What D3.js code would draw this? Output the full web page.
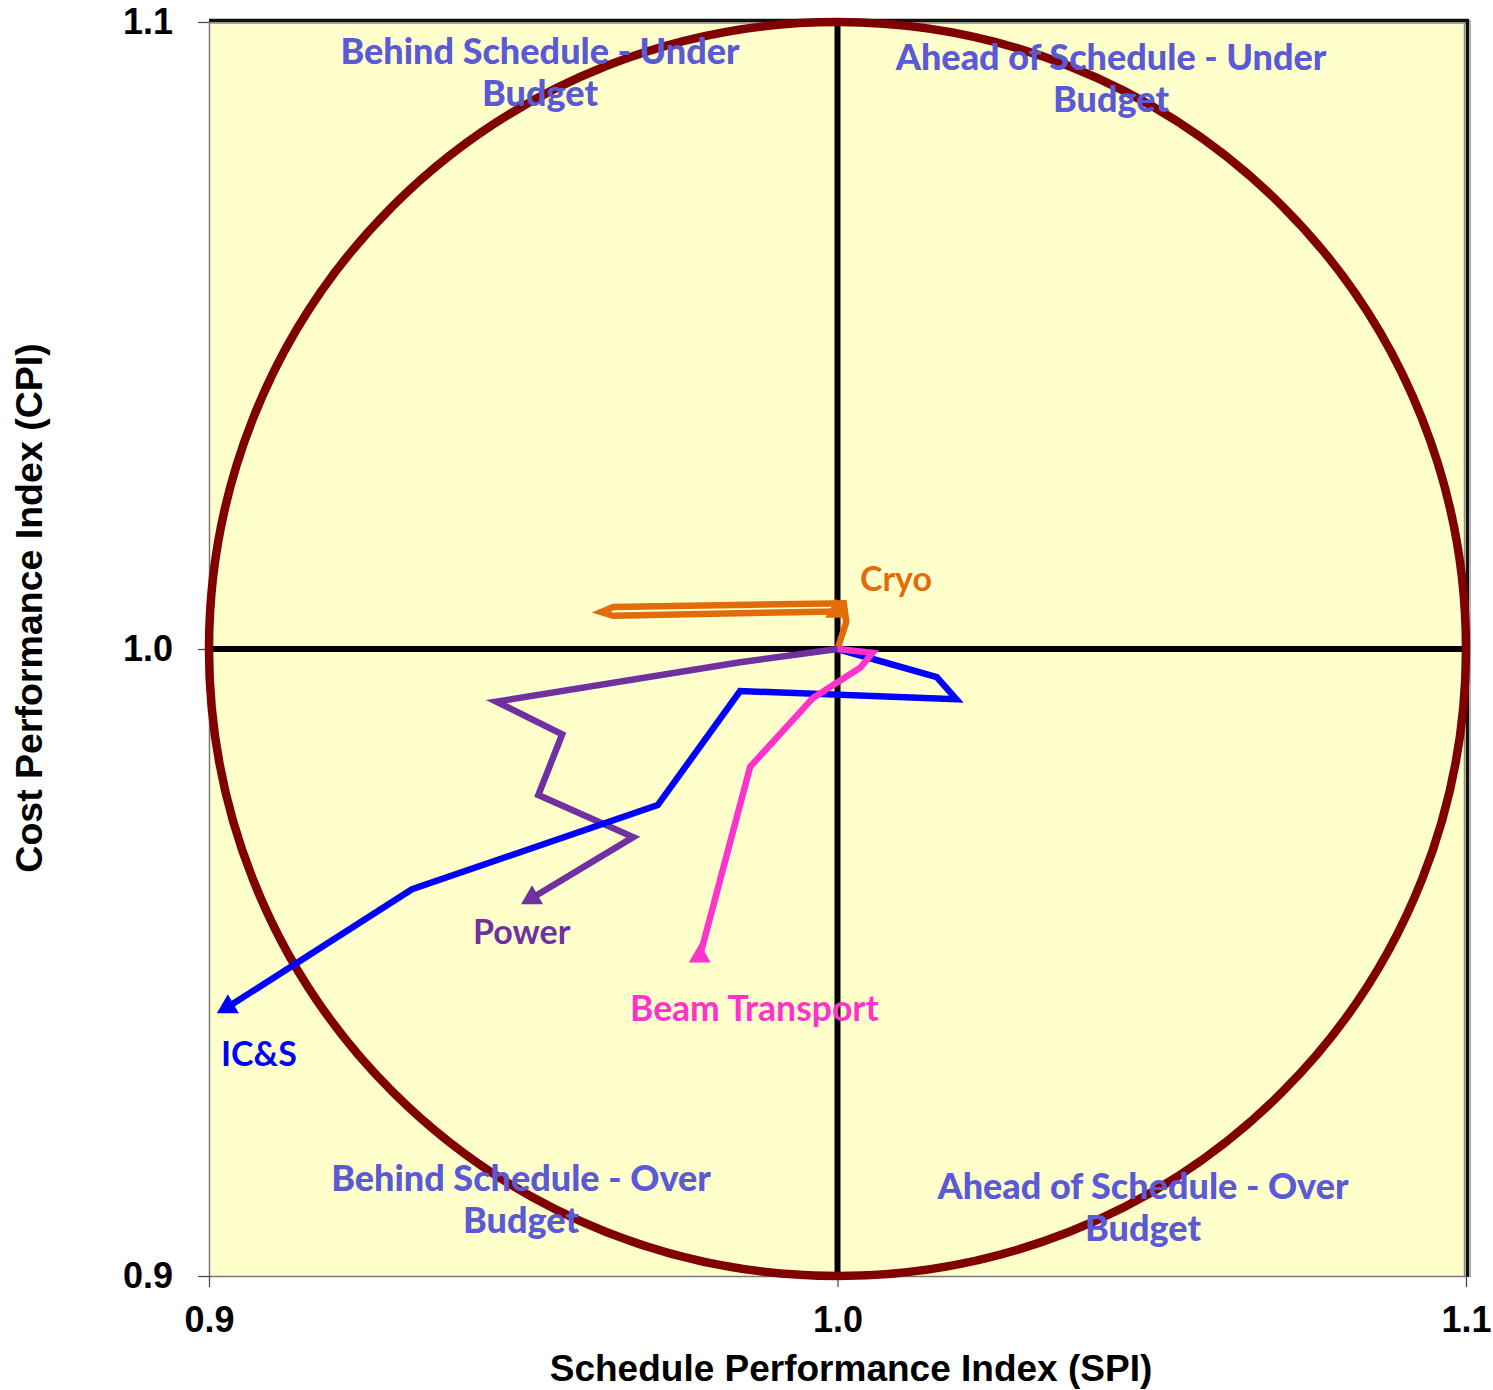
<!DOCTYPE html>
<html>
<head>
<meta charset="utf-8">
<script src="https://cdn.jsdelivr.net/npm/d3@7"></script>
<style>
  html, body { margin: 0; padding: 0; background: #ffffff; }
  svg { display: block; }
</style>
</head>
<body>
<svg id="chart" width="1493" height="1390"></svg>
<script>
// ---------- DATA ----------
const xTicks = [0.9, 1.0, 1.1];
const yTicks = [0.9, 1.0, 1.1];
const xTitle = "Schedule Performance Index (SPI)";
const yTitle = "Cost Performance Index (CPI)";

const seriesNames = ["Cryo", "Power", "IC&S", "Beam Transport"];

const cryoSPI  = [1.0000, 1.0014, 1.0010, 0.9643, 0.9624, 0.9643, 0.9998];
const cryoCPI  = [1.0000, 1.0043, 1.0073, 1.0067, 1.0059, 1.0053, 1.0060];

const powerSPI = [1.0000, 0.9845, 0.9457, 0.9562, 0.9524, 0.9675, 0.9514];
const powerCPI = [1.0000, 0.9979, 0.9916, 0.9864, 0.9767, 0.9700, 0.9603];

const icsSPI   = [1.0000, 1.0158, 1.0189, 0.9845, 0.9714, 0.9323, 0.9030];
const icsCPI   = [1.0000, 0.9955, 0.9920, 0.9933, 0.9751, 0.9617, 0.9429];

const beamSPI  = [1.0000, 1.0056, 1.0036, 0.9961, 0.9861, 0.9781];
const beamCPI  = [1.0000, 0.9994, 0.9970, 0.9922, 0.9812, 0.9510];

const circleCenter = [1.0, 1.0];
const circleRadius = 0.1;

const quadrantLabels = [
  ["Behind Schedule - Under", "Budget"],
  ["Ahead of Schedule - Under", "Budget"],
  ["Behind Schedule - Over", "Budget"],
  ["Ahead of Schedule - Over", "Budget"]
];

// ---------- LAYOUT ----------
const svg = d3.select("#chart");
const L = 209, R = 1466, T = 22, B = 1276;
const x = d3.scaleLinear().domain([0.9, 1.1]).range([L, R]);
const y = d3.scaleLinear().domain([0.9, 1.1]).range([B, T]);

const colors = {
  "Cryo": "#E36C0A",
  "Power": "#7030A0",
  "IC&S": "#0000FF",
  "Beam Transport": "#FF33CC"
};

// plot background
svg.append("rect")
  .attr("x", L).attr("y", T)
  .attr("width", R - L).attr("height", B - T)
  .attr("fill", "#FFFFCC");

// borders (top / right dark, left / bottom thin gray)
svg.append("line").attr("x1", L).attr("x2", R + 3).attr("y1", T - 1.5).attr("y2", T - 1.5)
  .attr("stroke", "#111").attr("stroke-width", 3.5);
svg.append("line").attr("x1", L).attr("x2", R).attr("y1", T + 1).attr("y2", T + 1)
  .attr("stroke", "#888").attr("stroke-width", 1.5);
svg.append("line").attr("x1", R + 1.5).attr("x2", R + 1.5).attr("y1", T - 3).attr("y2", B + 1)
  .attr("stroke", "#111").attr("stroke-width", 3.5);
svg.append("line").attr("x1", R - 1.5).attr("x2", R - 1.5).attr("y1", T).attr("y2", B)
  .attr("stroke", "#888").attr("stroke-width", 1.5);
svg.append("line").attr("x1", R + 4.2).attr("x2", R + 4.2).attr("y1", T - 2).attr("y2", B + 1)
  .attr("stroke", "#aaa").attr("stroke-width", 1.5);

// axes
const tickFmt = d3.format(".1f");
const yAxis = svg.append("g")
  .attr("transform", `translate(${L},0)`)
  .call(d3.axisLeft(y).tickValues(yTicks).tickFormat(tickFmt).tickSize(11).tickSizeOuter(0).tickPadding(25));
const xAxis = svg.append("g")
  .attr("transform", `translate(0,${B})`)
  .call(d3.axisBottom(x).tickValues(xTicks).tickFormat(tickFmt).tickSize(11).tickSizeOuter(0).tickPadding(19));
[yAxis, xAxis].forEach(g => {
  g.select(".domain").attr("stroke", "#777").attr("stroke-width", 1.5);
  g.selectAll(".tick line").attr("stroke", "#444").attr("stroke-width", 1.2);
  g.selectAll(".tick text")
    .attr("fill", "#000")
    .style("font-family", "'Liberation Sans', Arial, sans-serif")
    .style("font-weight", "bold")
    .style("font-size", "36px");
});

// quadrant cross lines
svg.append("line")
  .attr("x1", x(0.9)).attr("x2", x(1.1)).attr("y1", y(1.0)).attr("y2", y(1.0))
  .attr("stroke", "#000").attr("stroke-width", 6);
svg.append("line")
  .attr("x1", x(1.0)).attr("x2", x(1.0)).attr("y1", y(0.9)).attr("y2", y(1.1))
  .attr("stroke", "#000").attr("stroke-width", 6);

// circle (ellipse in screen coordinates)
svg.append("ellipse")
  .attr("cx", x(circleCenter[0])).attr("cy", y(circleCenter[1]))
  .attr("rx", x(circleCenter[0] + circleRadius) - x(circleCenter[0]))
  .attr("ry", y(circleCenter[1]) - y(circleCenter[1] + circleRadius))
  .attr("fill", "none").attr("stroke", "#800000").attr("stroke-width", 8.5);

// quadrant labels
const qColor = "#5A5AD6";
const qPos = [
  { cx: 540, y: 64 },
  { cx: 1111, y: 70 },
  { cx: 521, y: 1191 },
  { cx: 1143, y: 1199 }
];
quadrantLabels.forEach((lines, i) => {
  const t = svg.append("text")
    .attr("text-anchor", "middle")
    .attr("fill", qColor)
    .style("font-family", "Lato, 'Open Sans', sans-serif")
    .style("font-weight", "900")
    .style("font-size", "36px");
  lines.forEach((s, j) => {
    t.append("tspan").attr("x", qPos[i].cx).attr("y", qPos[i].y + j * 42).text(s);
  });
});

// series
const seriesData = [
  { name: "Cryo", spi: cryoSPI, cpi: cryoCPI },
  { name: "Power", spi: powerSPI, cpi: powerCPI },
  { name: "IC&S", spi: icsSPI, cpi: icsCPI },
  { name: "Beam Transport", spi: beamSPI, cpi: beamCPI }
];
const line = d3.line().x(d => x(d[0])).y(d => y(d[1]));
const tri = d3.symbol().type(d3.symbolTriangle).size(210);

seriesData.forEach(s => {
  const pts = s.spi.map((v, i) => [v, s.cpi[i]]);
  svg.append("path")
    .attr("d", line(pts))
    .attr("fill", "none")
    .attr("stroke", colors[s.name])
    .attr("stroke-width", 6.5)
    .attr("stroke-linejoin", "miter")
    .attr("stroke-miterlimit", 10);
  const last = pts[pts.length - 1];
  svg.append("path")
    .attr("d", tri())
    .attr("transform", `translate(${x(last[0])},${y(last[1])})`)
    .attr("fill", colors[s.name]);
});

// series labels
const labelPos = {
  "Cryo": { x: 860, y: 591 },
  "Power": { x: 473, y: 944 },
  "IC&S": { x: 221, y: 1066 },
  "Beam Transport": { x: 630, y: 1021 }
};
seriesNames.forEach(n => {
  svg.append("text")
    .attr("x", labelPos[n].x).attr("y", labelPos[n].y)
    .attr("fill", colors[n])
    .style("font-family", "Lato, 'Open Sans', sans-serif")
    .style("font-weight", "bold")
    .style("font-size", n === "Beam Transport" ? "35.5px" : "34px")
    .text(n);
});

// axis titles
svg.append("text")
  .attr("x", 851).attr("y", 1381)
  .attr("text-anchor", "middle")
  .attr("fill", "#000")
  .style("font-family", "'Liberation Sans', Arial, sans-serif")
  .style("font-weight", "bold")
  .style("font-size", "37px")
  .text(xTitle);
svg.append("text")
  .attr("transform", "translate(42,608) rotate(-90)")
  .attr("text-anchor", "middle")
  .attr("fill", "#000")
  .style("font-family", "'Liberation Sans', Arial, sans-serif")
  .style("font-weight", "bold")
  .style("font-size", "37.5px")
  .text(yTitle);
</script>
</body>
</html>
